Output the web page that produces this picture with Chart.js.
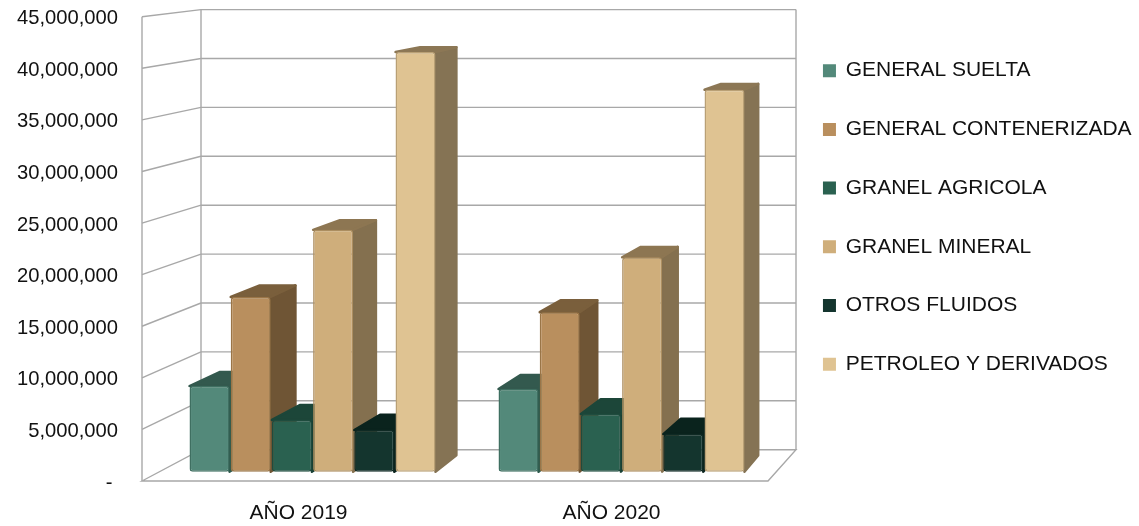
<!DOCTYPE html>
<html>
<head>
<meta charset="utf-8">
<style>
  html, body { margin: 0; padding: 0; background: #fff; }
  canvas { display: block; }
</style>
<script src="https://cdn.jsdelivr.net/npm/chart.js@4/dist/chart.umd.min.js"></script>
</head>
<body>
<canvas id="chart" width="1139" height="526"></canvas>
<script>
// Data
const years = ['AÑO 2019', 'AÑO 2020'];
const seriesNames = ['GENERAL SUELTA', 'GENERAL CONTENERIZADA', 'GRANEL AGRICOLA', 'GRANEL MINERAL', 'OTROS FLUIDOS', 'PETROLEO Y DERIVADOS'];
const generalSuelta = [8430000, 8140000];
const generalContenerizada = [17200000, 15700000];
const granelAgricola = [5100000, 5680000];
const granelMineral = [23800000, 21100000];
const otrosFluidos = [4100000, 3700000];
const petroleoDerivados = [41300000, 37600000];
const seriesValues = [generalSuelta, generalContenerizada, granelAgricola, granelMineral, otrosFluidos, petroleoDerivados];

// Colours: front, side, top, edge
const frontColors = ['#53897a', '#b98f5e', '#2a6150', '#cfae7b', '#14352e', '#dfc392'];
const sideColors = ['#2f5a4d', '#6f5535', '#184034', '#84704f', '#0b241e', '#857354'];
const topColors = ['#33594e', '#7a5f3c', '#1c4639', '#8d7652', '#0a231d', '#8c7755'];
const edgeColors = ['#3f6f61', '#9a7547', '#1f4c3e', '#ac8e60', '#0f2a24', '#b9a075'];

const FAMILY = "'Liberation Sans', Arial, sans-serif";
const GRID = '#a8a8a8';
const STEP = 5000000;
const MAX = 45000000;

// Box geometry: how far the back wall sits behind the front plane
const BACK_TOP = 9.6;
const BACK_BOTTOM = 449.7;
const BACK_LEFT = 201;
const BACK_RIGHT = 796;
const BAR_DEPTH = 0.53; // bars take about half of the floor depth
const BAR_DEPTH_RIGHT = 0.47; // right edge looks a bit shallower in the perspective

function backY(area, y) {
    const t = (y - area.top) / (area.bottom - area.top);
    return BACK_TOP + t * (BACK_BOTTOM - BACK_TOP);
}
function backX(area, x) {
    const t = (x - area.left) / (area.right - area.left);
    return BACK_LEFT + t * (BACK_RIGHT - BACK_LEFT);
}

function line(ctx, x1, y1, x2, y2) {
    ctx.beginPath();
    ctx.moveTo(x1, y1);
    ctx.lineTo(x2, y2);
    ctx.stroke();
}

function poly(ctx, pts, fill, stroke) {
    ctx.beginPath();
    pts.forEach((p, i) => i ? ctx.lineTo(p[0], p[1]) : ctx.moveTo(p[0], p[1]));
    ctx.closePath();
    ctx.fillStyle = fill;
    ctx.fill();
    ctx.strokeStyle = stroke;
    ctx.lineJoin = 'round';
    ctx.lineWidth = 2.5;
    ctx.stroke();
}

const box3d = {
    id: 'box3d',
    afterLayout(chart) {
        // legend sits on its own, away from the plot
        const legend = chart.legend;
        legend.left = 786;
        legend.right = 1139;
        legend.top = 22.5;
        legend.bottom = 526;
    },
    beforeDatasetsDraw(chart) {
        const { ctx, chartArea: area, scales } = chart;
        ctx.save();
        ctx.strokeStyle = GRID;
        ctx.lineWidth = 1.4;
        scales.y.ticks.forEach(t => {
            const y = scales.y.getPixelForValue(t.value);
            const by = backY(area, y);
            if (t.value > 0) {
                line(ctx, area.left, y, BACK_LEFT, by);
                line(ctx, BACK_LEFT, by, BACK_RIGHT, by);
            }
        });
        // floor
        ctx.beginPath();
        ctx.moveTo(area.left, area.bottom);
        ctx.lineTo(BACK_LEFT, BACK_BOTTOM);
        ctx.lineTo(BACK_RIGHT, BACK_BOTTOM);
        ctx.lineTo(area.right, area.bottom);
        ctx.closePath();
        ctx.stroke();
        // wall edges
        line(ctx, area.left, area.top, area.left, area.bottom);
        line(ctx, BACK_LEFT, BACK_TOP, BACK_LEFT, BACK_BOTTOM);
        line(ctx, BACK_RIGHT, BACK_TOP, BACK_RIGHT, BACK_BOTTOM);
        ctx.restore();
    },
    // Chart.js paints the first dataset last, here they must go left to right
    beforeDatasetDraw() {
        return false;
    },
    afterDatasetsDraw(chart) {
        const { ctx, chartArea: area } = chart;
        ctx.save();
        seriesValues.forEach((values, d) => {
            chart.getDatasetMeta(d).data.forEach(bar => {
                const { x, y, base, width } = bar.getProps(['x', 'y', 'base', 'width'], true);
                const l = x - width / 2, r = x + width / 2;
                const dyTop = BAR_DEPTH * (y - backY(area, y));
                const dyBase = BAR_DEPTH * (base - backY(area, base));
                const dxL = BAR_DEPTH * (backX(area, l) - l);
                const dxR = BAR_DEPTH_RIGHT * (backX(area, r) - r);
                poly(ctx, [[r, y], [r + dxR, y - dyTop], [r + dxR, base - dyBase], [r, base]], sideColors[d], sideColors[d]);
                poly(ctx, [[l, y], [l + dxL, y - dyTop], [r + dxR, y - dyTop], [r, y]], topColors[d], topColors[d]);
                bar.draw(ctx);
            });
        });
        ctx.restore();
    }
};

const datasets = seriesNames.map((name, d) => ({
    label: name,
    data: seriesValues[d].map((v, i) => ({ x: i, y: v })),
    xAxisID: 'xBar',
    yAxisID: 'yBar',
    backgroundColor: frontColors[d],
    borderColor: edgeColors[d],
    borderWidth: 1.5,
    borderRadius: 3,
    borderSkipped: false,
    categoryPercentage: 0.8,
    barPercentage: 0.97
}));

new Chart(document.getElementById('chart'), {
    type: 'bar',
    data: { labels: years, datasets: datasets },
    plugins: [box3d],
    options: {
        responsive: false,
        animation: false,
        devicePixelRatio: 1,
        layout: { padding: { top: 16.7, right: 370 } },
        plugins: {
            title: { display: false },
            tooltip: { enabled: false },
            legend: {
                position: 'right',
                align: 'start',
                maxWidth: 1,
                labels: {
                    boxWidth: 11.5,
                    boxHeight: 11.5,
                    padding: 37.7,
                    color: '#111',
                    font: { family: FAMILY, size: 21 },
                    // swatches have no darker outline
                    generateLabels: chart => Chart.defaults.plugins.legend.labels.generateLabels(chart)
                        .map(item => ({ ...item, strokeStyle: item.fillStyle }))
                }
            }
        },
        scales: {
            x: {
                type: 'category',
                labels: years,
                grid: { display: false, drawTicks: false },
                border: { display: false },
                ticks: { color: '#111', font: { family: FAMILY, size: 21 }, padding: 20, maxRotation: 0 },
                afterFit: s => { s.height = 45; }
            },
            // bars stand a little in front of the back wall, so they get their own scales
            xBar: {
                type: 'linear',
                display: false,
                offset: false,
                min: -0.5518,
                max: 1.4741,
                afterBuildTicks: s => { s.ticks = [{ value: 0 }, { value: 1 }]; }
            },
            y: {
                min: 0,
                max: MAX,
                // tick padding would also push the plot top down, so use tickLength for the gap
                grid: { display: false, drawTicks: true, tickLength: 24 },
                border: { display: false },
                ticks: {
                    stepSize: STEP,
                    color: '#111',
                    font: { family: FAMILY, size: 20.2 },
                    padding: 0,
                    labelOffset: 2,
                    callback: v => v === 0 ? '- ' : v.toLocaleString('en-US')
                },
                afterFit: s => { s.width = 142; }
            },
            yBar: {
                display: false,
                min: -915000,
                max: 44780000
            }
        }
    }
});
</script>
</body>
</html>
